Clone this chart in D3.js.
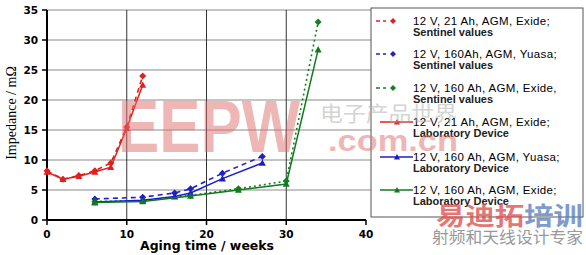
<!DOCTYPE html>
<html>
<head>
<meta charset="utf-8">
<script src="https://cdn.jsdelivr.net/npm/d3@7"></script>
<style>
  body { margin: 0; background: #fff; }
  svg { display: block; }
</style>
</head>
<body>
<div id="chart"></div>
<script>
// Chart size
const width = 586, height = 255;
const margin = {top: 10, left: 47};

// Data (weeks, mOhm)
const redSentinelX = [0, 2, 4, 6, 8, 10, 12];
const redSentinelY = [8.2, 6.8, 7.4, 8.2, 9.5, 15.5, 24];
const redLabX = [0, 2, 4, 6, 8, 10, 12];
const redLabY = [8, 6.8, 7.3, 8, 8.8, 15.3, 22.5];
const blueSentinelX = [6, 12, 16, 18, 22, 27];
const blueSentinelY = [3.5, 3.8, 4.5, 5.2, 7.8, 10.6];
const blueLabX = [6, 12, 16, 18, 22, 27];
const blueLabY = [3, 3.3, 3.9, 4.5, 6.9, 9.5];
const greenSentinelX = [6, 12, 18, 24, 30, 34];
const greenSentinelY = [3.1, 3.2, 4.1, 5.2, 6.5, 33];
const greenLabX = [6, 12, 18, 24, 30, 34];
const greenLabY = [2.9, 3.1, 4, 5, 6, 28.4];

const xTicks = [0, 10, 20, 30, 40];
const yTicks = [0, 5, 10, 15, 20, 25, 30, 35];

const legendLabels = [
  ["12 V, 21 Ah, AGM, Exide;", "Sentinel values"],
  ["12 V, 160Ah, AGM, Yuasa;", "Sentinel values"],
  ["12 V, 160 Ah, AGM, Exide,", "Sentinel values"],
  ["12 V, 21 Ah, AGM, Exide;", "Laboratory Device"],
  ["12 V, 160 Ah, AGM, Yuasa;", "Laboratory Device"],
  ["12 V, 160 Ah, AGM, Exide;", "Laboratory Device"]
];

const zip = (xs, ys) => xs.map((x, i) => [x, ys[i]]);

const series = [
  {pts: zip(redSentinelX, redSentinelY), color: "#e0201c", dash: "5,4", marker: "diamond"},
  {pts: zip(blueSentinelX, blueSentinelY), color: "#2020c8", dash: "5,4", marker: "diamond"},
  {pts: zip(greenSentinelX, greenSentinelY), color: "#11801f", dash: "2,3", marker: "diamond"},
  {pts: zip(redLabX, redLabY), color: "#e0201c", dash: null, marker: "triangle"},
  {pts: zip(blueLabX, blueLabY), color: "#1c1ccc", dash: null, marker: "triangle"},
  {pts: zip(greenLabX, greenLabY), color: "#117a1e", dash: null, marker: "triangle"}
];

const svg = d3.select("#chart").append("svg")
  .attr("width", width)
  .attr("height", height);

const x = d3.scaleLinear().domain([0, 40]).range([0, 319]);
const y = d3.scaleLinear().domain([0, 35]).range([210, 0]);

const g = svg.append("g")
  .attr("transform", `translate(${margin.left},${margin.top})`);

// Horizontal grid
g.selectAll(".hgrid")
  .data(yTicks.filter(d => d > 0))
  .enter().append("line")
  .attr("x1", 0).attr("x2", x(40) + 5)
  .attr("y1", d => y(d)).attr("y2", d => y(d))
  .attr("stroke", "#8a8a8a").attr("stroke-width", 1);

// Vertical grid
g.selectAll(".vgrid")
  .data(xTicks.filter(d => d > 0 && d < 40))
  .enter().append("line")
  .attr("y1", 0).attr("y2", y(0))
  .attr("x1", d => x(d)).attr("x2", d => x(d))
  .attr("stroke", "#333").attr("stroke-width", 1);

// Axes
g.append("line")
  .attr("x1", 0).attr("x2", 0).attr("y1", 0).attr("y2", y(0))
  .attr("stroke", "#000").attr("stroke-width", 2);
g.append("line")
  .attr("x1", 0).attr("x2", x(40)).attr("y1", y(0)).attr("y2", y(0))
  .attr("stroke", "#000").attr("stroke-width", 2);

g.selectAll(".ytick")
  .data(yTicks)
  .enter().append("line")
  .attr("x1", -5).attr("x2", 0)
  .attr("y1", d => y(d)).attr("y2", d => y(d))
  .attr("stroke", "#000").attr("stroke-width", 1.5);
g.selectAll(".xtick")
  .data(xTicks)
  .enter().append("line")
  .attr("x1", d => x(d)).attr("x2", d => x(d))
  .attr("y1", y(0)).attr("y2", y(0) + 5)
  .attr("stroke", "#000").attr("stroke-width", 1.5);

g.selectAll(".ylab")
  .data(yTicks)
  .enter().append("text")
  .attr("x", -9).attr("y", d => y(d) + 4)
  .attr("text-anchor", "end")
  .attr("font-family", "DejaVu Sans, Verdana, sans-serif")
  .attr("font-weight", "bold").attr("font-size", 10.5)
  .text(d => d);
g.selectAll(".xlab")
  .data(xTicks)
  .enter().append("text")
  .attr("x", d => x(d)).attr("y", y(0) + 18)
  .attr("text-anchor", "middle")
  .attr("font-family", "DejaVu Sans, Verdana, sans-serif")
  .attr("font-weight", "bold").attr("font-size", 10.5)
  .text(d => d);

svg.append("text")
  .attr("x", 140).attr("y", 250)
  .attr("font-family", "DejaVu Sans, Verdana, sans-serif")
  .attr("font-weight", "bold").attr("font-size", 11.5)
  .attr("textLength", 134).attr("lengthAdjust", "spacingAndGlyphs")
  .text("Aging time / weeks");

svg.append("text")
  .attr("transform", `translate(16,113) rotate(-90)`)
  .attr("text-anchor", "middle")
  .attr("font-family", "Liberation Serif, Times New Roman, serif")
  .attr("font-size", 14)
  .text("Impedance / mΩ");

// Series lines and markers
const line = d3.line().x(d => x(d[0])).y(d => y(d[1]));

function drawMarker(sel, type, color, size) {
  if (type === "diamond") {
    sel.append("path")
      .attr("d", `M0,${-size}L${size},0L0,${size}L${-size},0Z`)
      .attr("fill", color);
  } else {
    sel.append("path")
      .attr("d", `M0,${-size}L${size},${size * 0.8}L${-size},${size * 0.8}Z`)
      .attr("fill", color);
  }
}

series.forEach(s => {
  g.append("path")
    .datum(s.pts)
    .attr("d", line)
    .attr("fill", "none")
    .attr("stroke", s.color)
    .attr("stroke-width", s.dash ? 1.6 : 1.5)
    .attr("stroke-dasharray", s.dash);
  s.pts.forEach(p => {
    const m = g.append("g").attr("transform", `translate(${x(p[0])},${y(p[1])})`);
    drawMarker(m, s.marker, s.color, 3.5);
  });
});

// Legend
const legend = svg.append("g");
legend.append("rect")
  .attr("x", 371).attr("y", 8)
  .attr("width", 212).attr("height", 209)
  .attr("fill", "#fff")
  .attr("stroke", "#555").attr("stroke-width", 1);

const legendY = [25, 58, 92, 126, 161, 194];
series.forEach((s, i) => {
  const ly = legendY[i];
  const item = legend.append("g");
  if (s.marker === "diamond") {
    item.append("line")
      .attr("x1", 376).attr("x2", 386).attr("y1", ly - 4).attr("y2", ly - 4)
      .attr("stroke", s.color).attr("stroke-width", 1.6)
      .attr("stroke-dasharray", "4,3");
    const m = item.append("g").attr("transform", `translate(393,${ly - 4})`);
    drawMarker(m, "diamond", s.color, 3);
  } else {
    item.append("line")
      .attr("x1", 380).attr("x2", 413).attr("y1", ly - 4).attr("y2", ly - 4)
      .attr("stroke", s.color).attr("stroke-width", 1.5);
    const m = item.append("g").attr("transform", `translate(397,${ly - 4})`);
    drawMarker(m, "triangle", s.color, 3);
  }
  item.append("text")
    .attr("x", 413).attr("y", ly)
    .attr("font-family", "Liberation Sans, Arial, sans-serif")
    .attr("font-size", 11.5).attr("letter-spacing", 0.35)
    .text(legendLabels[i][0]);
  item.append("text")
    .attr("x", 413).attr("y", ly + 11)
    .attr("font-family", "Liberation Sans, Arial, sans-serif")
    .attr("font-weight", "bold").attr("font-size", 11)
    .attr("fill", "#222")
    .text(legendLabels[i][1]);
});

// Watermarks (semi-transparent, over plot and legend as in the reference)
const wm = svg.append("g");
wm.append("text")
  .attr("x", 118).attr("y", 152)
  .attr("font-family", "Liberation Sans, Arial, sans-serif")
  .attr("font-weight", "bold").attr("font-size", 74)
  .attr("textLength", 182).attr("lengthAdjust", "spacingAndGlyphs")
  .attr("fill", "#e07070").attr("opacity", 0.5)
  .text("EEPW");
wm.append("text")
  .attr("x", 320).attr("y", 121)
  .attr("font-family", "Noto Sans CJK SC").attr("font-size", 21)
  .attr("textLength", 137).attr("lengthAdjust", "spacingAndGlyphs")
  .attr("fill", "#aaa").attr("opacity", 0.5)
  .text("电子产品世界");
wm.append("text")
  .attr("x", 328).attr("y", 151)
  .attr("font-family", "Liberation Sans, Arial, sans-serif")
  .attr("font-weight", "bold").attr("font-size", 30)
  .attr("textLength", 130).attr("lengthAdjust", "spacingAndGlyphs")
  .attr("fill", "#e07070").attr("opacity", 0.5)
  .text(".com.cn");

// Bottom-right watermark
svg.append("text")
  .attr("x", 436).attr("y", 225)
  .attr("font-family", "Noto Sans CJK SC").attr("font-weight", "bold").attr("font-size", 25)
  .attr("textLength", 147).attr("lengthAdjust", "spacingAndGlyphs")
  .html('<tspan fill="#e05050" fill-opacity="0.8">易迪拓</tspan><tspan fill="#5a7fc0" fill-opacity="0.8">培训</tspan>');
svg.append("text")
  .attr("x", 432).attr("y", 243)
  .attr("font-family", "Noto Sans CJK SC").attr("font-size", 16)
  .attr("textLength", 151).attr("lengthAdjust", "spacingAndGlyphs")
  .attr("fill", "#999")
  .text("射频和天线设计专家");
</script>
</body>
</html>
